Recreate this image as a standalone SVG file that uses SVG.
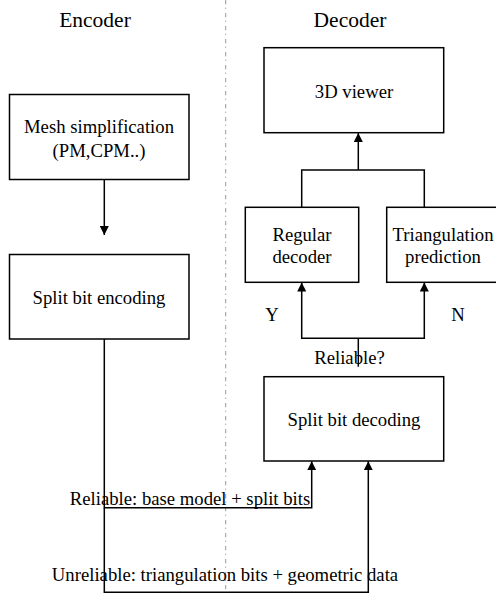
<svg xmlns="http://www.w3.org/2000/svg" width="496" height="593" viewBox="0 0 496 593">
<style>
text{font-family:"Liberation Serif","Times New Roman",serif;fill:#000;text-anchor:middle}
.lbl{font-size:18.7px}
.hdr{font-size:21.5px}
rect{fill:#fff;stroke:#000;stroke-width:1.5}
.ln{fill:none;stroke:#000;stroke-width:1.5}
.sep{stroke:#999;stroke-width:1;stroke-dasharray:4.3 3.3 1.2 4.2}
</style>
<defs>
<marker id="ah" viewBox="0 0 10 10" refX="10" refY="5" markerWidth="9" markerHeight="9" markerUnits="userSpaceOnUse" orient="auto">
<path d="M0,0 L10,5 L0,10 z" fill="#000"/>
</marker>
</defs>
<line class="sep" x1="225.7" y1="0" x2="225.7" y2="593"/>
<text class="hdr" x="95" y="27">Encoder</text>
<text class="hdr" x="350" y="27">Decoder</text>
<g id="connectors">
<path class="ln" d="M104.3,179.3 V235" marker-end="url(#ah)"/>
<path class="ln" d="M358.3,170 V133" marker-end="url(#ah)"/>
<path class="ln" d="M301.7,207.3 V170 H424.3 V207.3"/>
<path class="ln" d="M358.3,366.7 V338.3"/>
<path class="ln" d="M358.3,338.3 H301.7 V282.5" marker-end="url(#ah)"/>
<path class="ln" d="M358.3,338.3 H424.3 V282.5" marker-end="url(#ah)"/>
<path class="ln" d="M104.3,339 V507.7 H311.7 V461.2" marker-end="url(#ah)"/>
<path class="ln" d="M104.3,507.7 V592.3 H368.3 V461.2" marker-end="url(#ah)"/>
</g>
<g id="mesh">
<rect x="9.5" y="94.5" width="179.5" height="85"/>
<text class="lbl" x="99" y="133">Mesh simplification</text>
<text class="lbl" x="99" y="157">(PM,CPM..)</text>
</g>
<g id="encode">
<rect x="9.5" y="254.5" width="179.5" height="84.5"/>
<text class="lbl" x="99" y="304">Split bit encoding</text>
</g>
<g id="viewer">
<rect x="264" y="47.7" width="179.7" height="85"/>
<text class="lbl" x="354" y="98.3">3D viewer</text>
</g>
<g id="regular">
<rect x="245.3" y="207.3" width="113.4" height="75"/>
<text class="lbl" x="302" y="240.7">Regular</text>
<text class="lbl" x="302" y="263.3">decoder</text>
</g>
<g id="triang">
<rect x="386.7" y="207.3" width="115" height="75"/>
<text class="lbl" x="443" y="240.7">Triangulation</text>
<text class="lbl" x="443" y="263.3">prediction</text>
</g>
<g id="decode">
<rect x="264" y="376.7" width="179.7" height="84.3"/>
<text class="lbl" x="354" y="426">Split bit decoding</text>
</g>
<g id="labels">
<text class="lbl" x="272" y="320.7">Y</text>
<text class="lbl" x="458" y="320.7">N</text>
<text class="lbl" x="349.5" y="364">Reliable?</text>
<text class="lbl" x="190" y="505">Reliable: base model + split bits</text>
<text class="lbl" x="225" y="580.7">Unreliable: triangulation bits + geometric data</text>
</g>
</svg>
